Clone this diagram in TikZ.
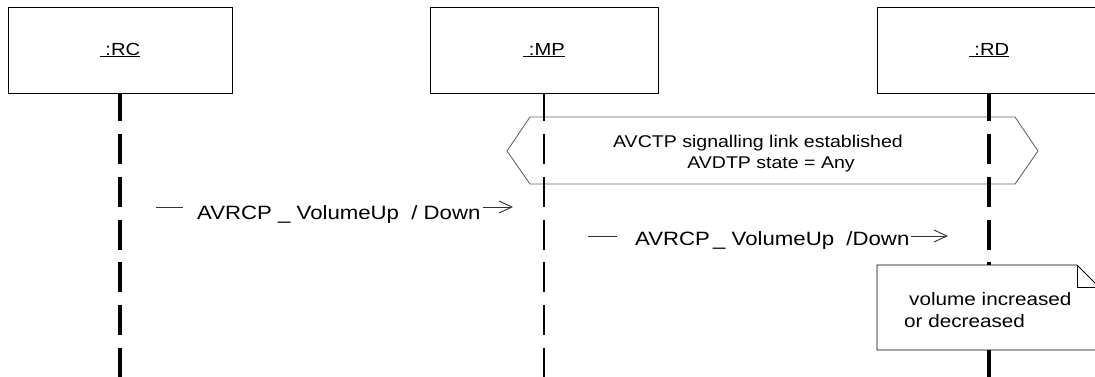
\documentclass[tikz,border=0pt]{standalone}
\usepackage{fontspec}
\newfontfamily\dg[FakeStretch=1.15]{Liberation Sans}
\usetikzlibrary{arrows.meta}
\begin{document}
\begin{tikzpicture}[x=1pt,y=-1pt,
  obj/.style={draw, line width=0.9pt, minimum height=86pt, inner sep=0pt, font=\dg\fontsize{17.5}{20}\selectfont},
  life/.style={line width=#1, dash pattern=on 30pt off 12.7pt, dash phase=2pt},
  msg/.style={draw=black!80, line width=0.8pt, -{Straight Barb[length=13pt,width=12pt,line width=0.9pt]}},
  msgtxt/.style={fill=white, inner xsep=0pt, inner ysep=2pt, anchor=base west, font=\dg\fontsize{19.3}{22}\selectfont},
  frametxt/.style={anchor=base, inner sep=0pt, font=\dg\fontsize{17}{20}\selectfont},
  notetxt/.style={anchor=base west, inner sep=0pt, font=\dg\fontsize{18}{22}\selectfont},
  frame/.style={draw=black!60, line width=0.9pt},
  notebox/.style={draw, fill=white, line width=0.9pt}
]
\useasboundingbox (0,0) rectangle (1095,377);
\clip (0,0) rectangle (1095,377);
% objects
\node[obj, minimum width=224pt] (rc) at (120,50) {\underline{\ :RC}};
\node[obj, minimum width=228pt] (mp) at (544,50) {\underline{\ :MP}};
\node[obj, minimum width=224pt] (rd) at (989,50) {\underline{\ :RD}};
% frame
\draw[frame] (507,151) -- (530,117) -- (1015,117) -- (1038,151) -- (1015,184) -- (530,184) -- cycle;
\node[frametxt] (h1) at (758,147) {AVCTP signalling link established};
\node[frametxt] (h2) at (771,168) {AVDTP state = Any};
% lifelines
\coordinate (rcend) at (120,377);
\coordinate (mpend) at (544,377);
\coordinate (rdend) at (989,377);
\draw[life=3.5pt] (rc.south) -- (rcend);
\draw[life=1.8pt] (mp.south) -- (mpend);
\draw[life=3.5pt] (rd.south) -- (rdend);
% messages
\coordinate (m1s) at (156,207);
\coordinate (m1e) at (513,207);
\draw[msg] (m1s) -- (m1e);
\node[msgtxt] (m1t) at (183,219) {\hspace*{14pt}AVRCP \_ VolumeUp\ \ / Down\hspace*{2pt}};
\coordinate (m2s) at (588,236);
\coordinate (m2e) at (948,236);
\draw[msg] (m2s) -- (m2e);
\node[msgtxt] (m2t) at (617,245) {\hspace*{18pt}AVRCP\,\_ VolumeUp\ \ /Down\hspace*{2pt}};
% note
\draw[notebox] (877,265) -- (1077,265) -- (1099,287) -- (1099,350) -- (877,350) -- cycle;
\draw[line width=0.9pt] (1077,265) -- (1077,287) -- (1099,287);
\node[notetxt] (n1) at (909,305) {volume increased};
\node[notetxt] (n2) at (904,327) {or decreased};
\end{tikzpicture}
\end{document}
